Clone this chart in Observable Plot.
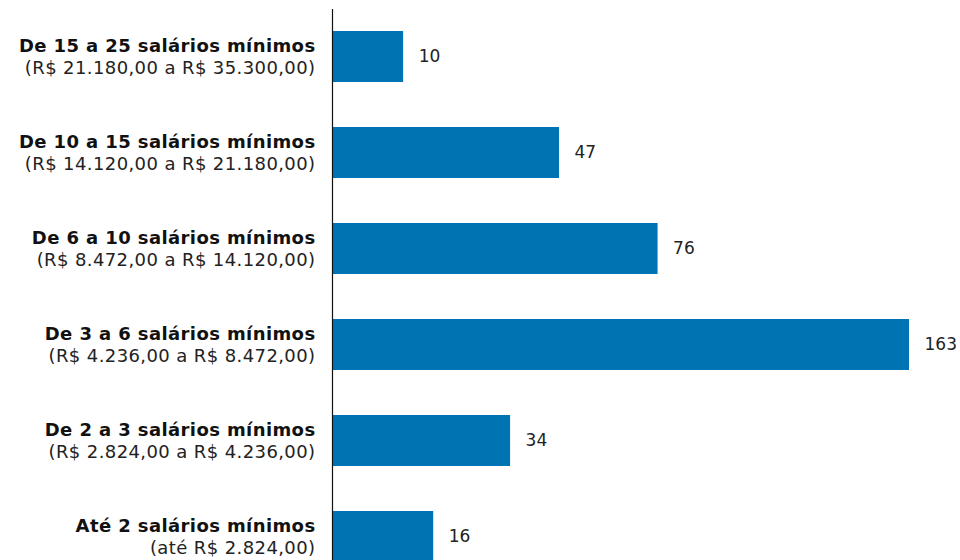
<!DOCTYPE html>
<html>
<head>
<meta charset="utf-8">
<script src="https://cdn.jsdelivr.net/npm/d3@7"></script>
<script src="https://cdn.jsdelivr.net/npm/@observablehq/plot@0.6"></script>
<style>
  html, body { margin: 0; padding: 0; background: #ffffff; overflow: hidden; }
  #chart svg { display: block; }
</style>
</head>
<body>
<div id="chart"></div>
<script>
const categories = [
  "De 15 a 25 salários mínimos",
  "De 10 a 15 salários mínimos",
  "De 6 a 10 salários mínimos",
  "De 3 a 6 salários mínimos",
  "De 2 a 3 salários mínimos",
  "Até 2 salários mínimos"
];
const ranges = [
  "(R$ 21.180,00 a R$ 35.300,00)",
  "(R$ 14.120,00 a R$ 21.180,00)",
  "(R$ 8.472,00 a R$ 14.120,00)",
  "(R$ 4.236,00 a R$ 8.472,00)",
  "(R$ 2.824,00 a R$ 4.236,00)",
  "(até R$ 2.824,00)"
];
const values = [10, 47, 76, 163, 34, 16];

const data = categories.map((c, i) => ({cat: c, range: ranges[i], value: values[i]}));

const FONT = "DejaVu Sans";

const chart = Plot.plot({
  width: 960,
  height: 560,
  marginTop: 9,
  marginBottom: 0,
  marginLeft: 332,
  marginRight: 0,
  style: {fontFamily: FONT, background: "transparent", overflow: "hidden"},
  x: {type: "pow", exponent: 0.75, domain: [0, 163], range: [332, 909], axis: null},
  y: {domain: categories, range: [7, 585.5], paddingInner: 0.47, paddingOuter: 0.235, axis: null},
  marks: [
    Plot.barX(data, {x: "value", y: "cat", fill: "#0073b2"}),
    Plot.ruleX([0], {stroke: "#111", strokeWidth: 1.2}),
    Plot.text(data, {x: 0, y: "cat", text: "cat", textAnchor: "end", dx: -17, dy: -11,
      fontWeight: "bold", fontSize: 18, fill: "#111"}),
    Plot.text(data, {x: 0, y: "cat", text: "range", textAnchor: "end", dx: -17, dy: 11,
      fontSize: 18, fill: "#222"}),
    Plot.text(data, {x: "value", y: "cat", text: d => String(d.value), textAnchor: "start", dx: 15,
      fontSize: 17, fill: "#222"})
  ]
});
const textGroups = chart.querySelectorAll('g[aria-label="text"]');
textGroups.forEach((g, i) => { if (i < 2) g.setAttribute("letter-spacing", "0.4"); });
document.getElementById("chart").appendChild(chart);
</script>
</body>
</html>
